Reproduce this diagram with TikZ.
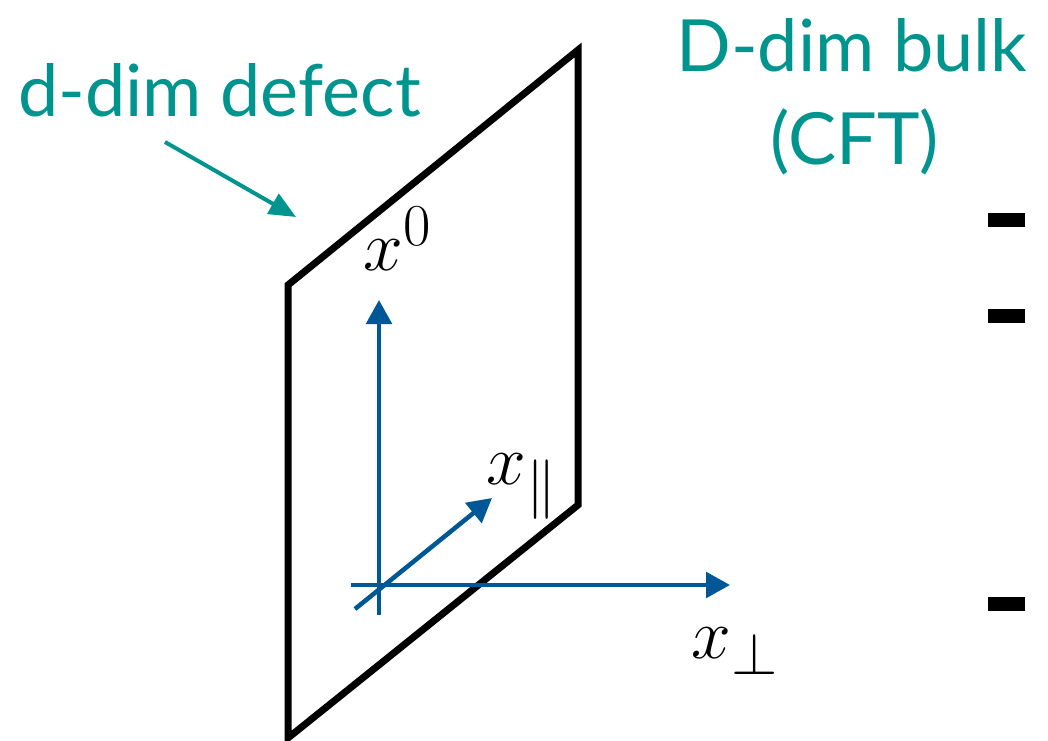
\documentclass[tikz,border=0pt]{standalone}
\usepackage{fontspec}
\setmainfont{Lato}
\usetikzlibrary{arrows.meta}
\definecolor{tealc}{RGB}{0,148,143}
\definecolor{axblue}{RGB}{0,87,150}
\begin{document}
\begin{tikzpicture}[x=0.75pt,y=-0.75pt,
  lbl/.style={text=tealc,inner sep=0pt,font=\fontsize{54}{60}\selectfont},
  axis/.style={draw=axblue,line width=3.4pt,-{Triangle[length=18pt,width=19pt]}},
  pointer/.style={draw=tealc,line width=3pt,-{Triangle[length=20pt,width=17pt]}},
  mlbl/.style={inner sep=0pt,scale=2.15,font=\fontsize{24.88}{30}\selectfont},
  dashbar/.style={fill=black,draw=none}]
\useasboundingbox (0,0) rectangle (1048,741);
% defect plane
\coordinate (p1) at (288,285);
\coordinate (p2) at (578,50);
\coordinate (p3) at (578,505);
\coordinate (p4) at (288,738);
\draw[line width=5.25pt] (p1) -- (p2) -- (p3) -- (p4) -- cycle;
% axes
\coordinate (v0) at (379,615);
\coordinate (v1) at (379,300);
\coordinate (h0) at (351,585);
\coordinate (h1) at (730,585);
\coordinate (d0) at (355,609);
\coordinate (d1) at (492,498);
\draw[axis] (v0) -- (v1);
\draw[axis] (h0) -- (h1);
\draw[axis] (d0) -- (d1);
% math labels
\node[mlbl,anchor=base west] (xz) at (363,271) {$x^0$};
\node[mlbl,anchor=base west] (xpar) at (486,484) {$x_{\parallel}$};
\node[mlbl,anchor=base west] (xperp) at (691,658) {$x_{\perp}$};
% teal labels
\node[lbl,anchor=base west] (defect) at (18,117) {d-dim defect};
\node[lbl,anchor=base west] (bulk) at (676,72) {D-dim bulk};
\node[lbl,anchor=base] (cft) at (855,165) {(CFT)};
\coordinate (ps) at (165,142);
\coordinate (pe) at (296,217);
\draw[pointer] (ps) -- (pe);
% dashes
\fill[dashbar] (988,213) rectangle (1025,227);
\fill[dashbar] (988,309) rectangle (1025,323);
\fill[dashbar] (988,597) rectangle (1025,611);
\end{tikzpicture}
\end{document}
